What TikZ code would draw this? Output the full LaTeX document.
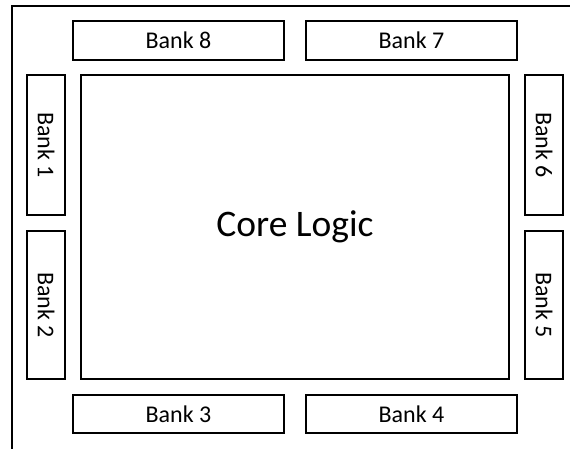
\documentclass[tikz,border=0pt]{standalone}
\usepackage{fontspec}
\setmainfont{Carlito}
\usepackage{tikz}
\usetikzlibrary{positioning, calc}

\tikzset{
    bankbox/.style={draw, line width=2pt, inner sep=0pt, outer sep=0pt, font=\fontsize{24}{28}\selectfont},
    corebox/.style={draw, line width=2pt, inner sep=0pt, outer sep=0pt, font=\fontsize{37.5}{42}\selectfont},
}

\begin{document}
\begin{tikzpicture}[x=1pt, y=-1pt]
                \useasboundingbox (0,0) rectangle (570,448);
                % chip outline, cut off at right and bottom
                \draw[line width=2pt] (11.5,5.5) rectangle (590,470);
                \node[corebox, minimum width=428, minimum height=304] (core) at (295,227) {Core Logic};
                \foreach \name/\txt/\cx/\cy in {bankE/Bank 8/178.5/40.5, bankG/Bank 7/411.5/40.5, bankC/Bank 3/178.5/414, bankD/Bank 4/411.5/414} {
                    \node[bankbox, minimum width=211, minimum height=38.5] (\name) at (\cx,\cy) {\txt};
                }
                \foreach \name/\txt/\cx/\cy/\h in {bankA/Bank 1/46/145/140, bankB/Bank 2/46/305/148, bankF/Bank 6/544/145/140, bankH/Bank 5/544/305/148} {
                    \node[bankbox, minimum width=\h, minimum height=38, rotate=-90] (\name) at (\cx,\cy) {\txt};
                }
            \end{tikzpicture}
\end{document}
